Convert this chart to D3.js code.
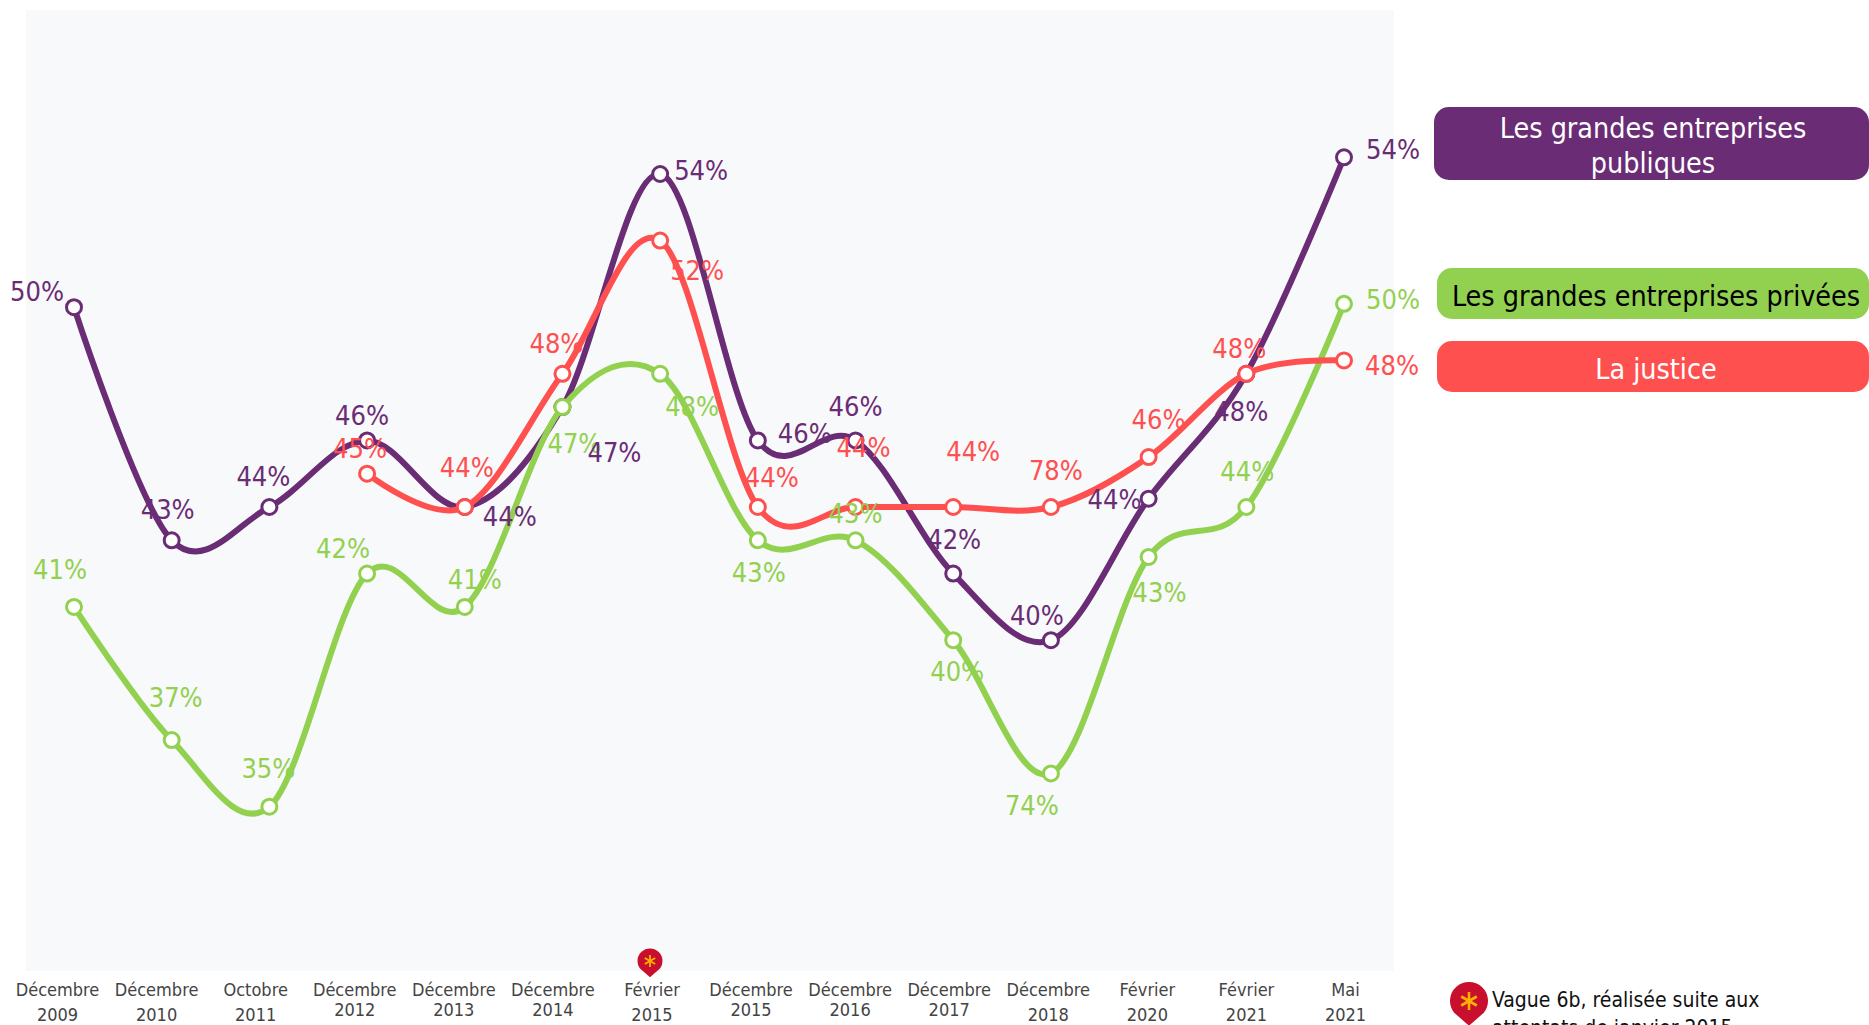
<!DOCTYPE html>
<html>
<head>
<meta charset="utf-8">
<script src="https://d3js.org/d3.v7.min.js"></script>
<style>
  html, body { margin: 0; padding: 0; background: #fff; overflow: hidden; }
  svg { display: block; }
  text { font-family: "DejaVu Sans Condensed", "DejaVu Sans", sans-serif; font-stretch: condensed; }
</style>
</head>
<body>
<svg id="chart" width="1869" height="1025"></svg>
<script>
var categories = ["Décembre 2009", "Décembre 2010", "Octobre 2011", "Décembre 2012", "Décembre 2013", "Décembre 2014", "Février 2015",
                  "Décembre 2015", "Décembre 2016", "Décembre 2017", "Décembre 2018", "Février 2020", "Février 2021", "Mai 2021"];

var publiques = [50, 43, 44, 46, 44, 47, 54, 46, 46, 42, 40, 44.25, 48, 54.5];
var privees   = [41, 37, 35, 42, 41, 47, 48, 43, 43, 40, 36, 42.5, 44, 50.1];
var justice   = [null, null, null, 45, 44, 48, 52, 44, 44, 44, 44, 45.5, 48, 48.4];

// the labels are the ones printed on the chart, they do not always agree with the curve
var publiquesLabels = ["50%", "43%", "44%", "46%", "44%", "47%", "54%", "46%", "46%", "42%", "40%", "44%", "48%", "54%"];
var priveesLabels   = ["41%", "37%", "35%", "42%", "41%", "47%", "48%", "43%", "43%", "40%", "74%", "43%", "44%", "50%"];
var justiceLabels   = [null, null, null, "45%", "44%", "48%", "52%", "44%", "44%", "44%", "78%", "46%", "48%", "48%"];

// label offsets from the marker, placed by hand like the original
var publiquesOffsets = [[-37,-15],[-4,-30],[-6,-30],[-5,-24],[45,10],[52,46],[41,-3],[47,-6],[0,-33],[1,-34],[-14,-24],[-34,1],[-5,38],[49,-7]];
var priveesOffsets   = [[-14,-37],[4,-42],[-1,-38],[-24,-25],[10,-27],[12,37],[32,33],[1,33],[0,-26],[4,32],[-19,33],[11,36],[1,-35],[49,-4]];
var justiceOffsets   = [null,null,null,[-7,-25],[2,-39],[-6,-30],[37,30],[14,-29],[8,-59],[20,-55],[5,-36],[10,-37],[-7,-25],[48,6]];

// second line of the tick labels sits at two different heights in the original
var yearLineY = [1015, 1015, 1015, 1010, 1010, 1010, 1015, 1010, 1010, 1010, 1015, 1015, 1015, 1015];

var purple = "#6a2c75", green = "#92d14f", red = "#ff5050";

var svg = d3.select("#chart");

var x = d3.scalePoint().domain(categories).range([74, 1344]);
var xAxisScale = d3.scalePoint().domain(categories).range([57, 1345]);
var y = d3.scaleLinear().domain([30, 60]).range([973.2, -25.8]);

svg.append("rect").attr("x", 26).attr("y", 10).attr("width", 1368).attr("height", 961).attr("fill", "#f8f9fb");

var line = d3.line()
    .defined(function (d) { return d.v !== null; })
    .x(function (d) { return x(d.c); })
    .y(function (d) { return y(d.v); })
    .curve(d3.curveCardinal.tension(0));

function rows(values, labels, offsets) {
    return categories.map(function (c, i) {
        return { c: c, v: values[i], label: labels[i], off: offsets[i] };
    });
}

function drawSeries(data, color) {
    var g = svg.append("g");
    g.append("path").attr("d", line(data)).attr("fill", "none")
        .attr("stroke", color).attr("stroke-width", 6).attr("stroke-linecap", "round");
    g.selectAll("circle").data(data.filter(function (d) { return d.v !== null; })).enter().append("circle")
        .attr("cx", function (d) { return x(d.c); })
        .attr("cy", function (d) { return y(d.v); })
        .attr("r", 7.5)
        .attr("fill", "#fff").attr("stroke", color).attr("stroke-width", 3);
}

function drawLabels(data, color) {
    svg.append("g").selectAll("text").data(data.filter(function (d) { return d.v !== null; })).enter().append("text")
        .attr("x", function (d) { return x(d.c) + d.off[0]; })
        .attr("y", function (d) { return y(d.v) + d.off[1]; })
        .attr("dy", "0.33em")
        .attr("text-anchor", "middle")
        .attr("font-size", 27)
        .attr("fill", color)
        .text(function (d) { return d.label; });
}

var pub = rows(publiques, publiquesLabels, publiquesOffsets);
var pri = rows(privees, priveesLabels, priveesOffsets);
var jus = rows(justice, justiceLabels, justiceOffsets);

drawSeries(pub, purple);
drawSeries(pri, green);
drawSeries(jus, red);
drawLabels(jus, red);
drawLabels(pri, green);
drawLabels(pub, purple);

// x axis, two lines per tick
var axis = svg.append("g").attr("transform", "translate(0,971)")
    .call(d3.axisBottom(xAxisScale).tickSize(0));
axis.select(".domain").remove();
axis.selectAll(".tick text").each(function (c, i) {
    var t = d3.select(this).text(null).attr("font-size", 18).attr("fill", "#444").attr("font-family", null).attr("y", null).attr("dy", null);
    var parts = c.split(" ");
    t.append("tspan").attr("x", 0).attr("y", 25).text(parts[0]);
    t.append("tspan").attr("x", 0).attr("y", yearLineY[i] - 971 + 6).text(parts[1]);
});

// red pins
function drawPin(cx, cy, r, starSize) {
    var pin = svg.append("g").attr("transform", "translate(" + cx + "," + cy + ")");
    pin.append("path")
        .attr("d", "M" + (-r * 0.78) + "," + (r * 0.62) + "A" + r + "," + r + " 0 1 1 " + (r * 0.78) + "," + (r * 0.62) + "L0," + (r * 1.3) + "Z")
        .attr("fill", "#c8102e");
    d3.range(3).forEach(function (i) {
        var a = i * Math.PI / 3 + Math.PI / 2;
        pin.append("line")
            .attr("x1", -Math.cos(a) * starSize).attr("y1", -Math.sin(a) * starSize)
            .attr("x2", Math.cos(a) * starSize).attr("y2", Math.sin(a) * starSize)
            .attr("stroke", "#ffb300").attr("stroke-width", r > 15 ? 2.6 : 1.8);
    });
}
drawPin(650, 961, 12.5, 6);
drawPin(1469, 1001, 19, 9);

// legend
var legend = [
    { y: 107, h: 73, fill: purple, x: 1434, color: "#fff", tx: 1653, lines: [["Les grandes entreprises", 128], ["publiques", 163]] },
    { y: 268, h: 51, fill: "#92d050", x: 1437, color: "#000", tx: 1656, lines: [["Les grandes entreprises privées", 296]] },
    { y: 341, h: 51, fill: red, x: 1437, color: "#fff", tx: 1656, lines: [["La justice", 369]] }
];
legend.forEach(function (l) {
    svg.append("rect").attr("x", l.x).attr("y", l.y).attr("width", 1869 - l.x).attr("height", l.h).attr("rx", 15).attr("fill", l.fill);
    l.lines.forEach(function (t) {
        svg.append("text").attr("x", l.tx).attr("y", t[1]).attr("dy", "0.36em").attr("text-anchor", "middle")
            .attr("font-size", 28.4).attr("fill", l.color).text(t[0]);
    });
});

svg.append("text").attr("x", 1492).attr("y", 999).attr("dy", "0.36em").attr("font-size", 21).attr("fill", "#111").text("Vague 6b, réalisée suite aux");
svg.append("text").attr("x", 1492).attr("y", 1027).attr("dy", "0.36em").attr("font-size", 21).attr("fill", "#111").text("attentats de janvier 2015");
</script>
</body>
</html>
